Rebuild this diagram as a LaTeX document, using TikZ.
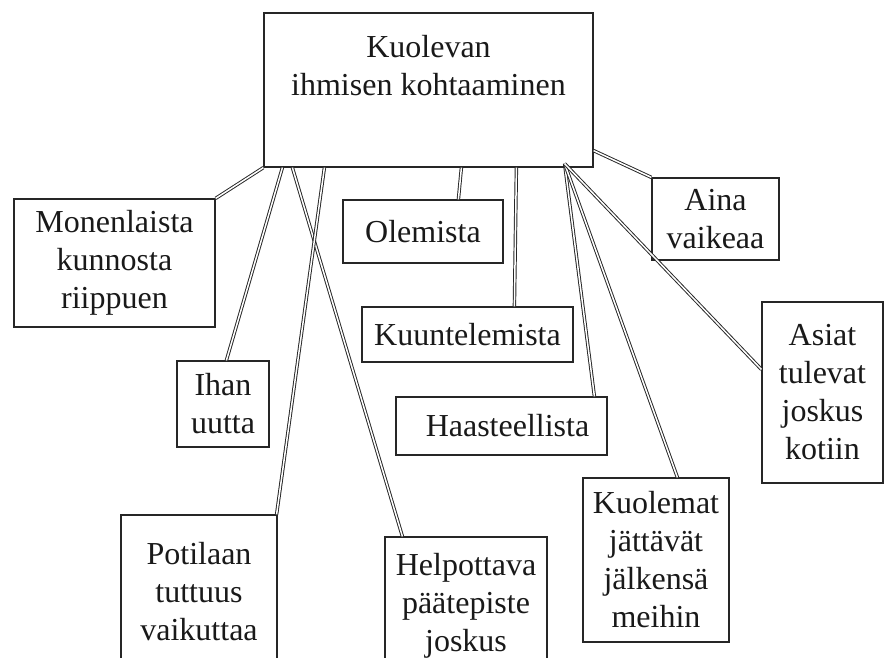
\documentclass[tikz,border=0pt]{standalone}
\usepackage{fontspec}
\setmainfont{Liberation Serif}
\usetikzlibrary{positioning,calc}
\tikzset{
	box/.style={draw=black!85,line width=1.2pt,rectangle,align=center,inner sep=0pt,
		font=\fontsize{32}{38}\selectfont,text=black!90},
	conn/.style={draw=black!85,line width=0.95pt,double=white,double distance=1.5pt}
}

\begin{document}
\begin{tikzpicture}[x=1pt,y=-1pt]
	\useasboundingbox (0,0) rectangle (887,657);
	\clip (0,0) rectangle (887,657);
	
	%Laatikot
	\node[box,minimum width=329,minimum height=154] (main) at (428.5,90) {Kuolevan\\ihmisen kohtaaminen\\\strut};
	\node[box,minimum width=201,minimum height=128] (mon) at (114.5,263) {Monenlaista\\kunnosta\\riippuen};
	\node[box,minimum width=92,minimum height=86] (ihan) at (223,404) {Ihan\\uutta};
	\node[box,minimum width=160,minimum height=63] (olem) at (423,231.5) {Olemista};
	\node[box,minimum width=211,minimum height=55] (kuun) at (467.5,334.5) {Kuuntelemista};
	\node[box,minimum width=211,minimum height=58] (haas) at (501.5,426) {\hspace{12pt}Haasteellista};
	\node[box,minimum width=127,minimum height=82] (aina) at (715.5,219) {Aina\\vaikeaa};
	\node[box,minimum width=121,minimum height=181] (asiat) at (822.5,392.5) {Asiat\\tulevat\\joskus\\kotiin};
	\node[box,minimum width=146,minimum height=164] (kuol) at (656,560) {Kuolemat\\jättävät\\jälkensä\\meihin};
	\node[box,minimum width=156,minimum height=154] (pot) at (199,592) {Potilaan\\tuttuus\\vaikuttaa};
	\node[box,minimum width=162,minimum height=138] (help) at (466,606) {Helpottava\\päätepiste\\joskus};
	
	%Yhteinen lähtöpiste
	\coordinate (hub) at ($(main.south east)+(-29,-4)$);
	
	%Yhteydet
	\draw[conn] (main.south west) -- (mon.north east);
	\draw[conn] ($(main.south west)+(19,0)$) -- ($(ihan.north west)+(50,0)$);
	\draw[conn] ($(main.south west)+(29,0)$) -- ($(help.north west)+(18,0)$);
	\draw[conn] ($(main.south west)+(61,0)$) -- ($(pot.north east)+(-1,0)$);
	\draw[conn] ($(main.south west)+(198,0)$) -- ($(olem.north west)+(116,0)$);
	\draw[conn] ($(main.south west)+(253,0)$) -- ($(kuun.north west)+(153,0)$);
	\draw[conn] (hub) -- ($(haas.north west)+(199,0)$);
	\draw[conn] (hub) -- ($(kuol.north west)+(95,0)$);
	\draw[conn] (hub) -- ($(asiat.north west)+(0,68)$);
	\draw[conn] ($(main.south east)+(0,-17)$) -- (aina.north west);
	
\end{tikzpicture}
\end{document}
